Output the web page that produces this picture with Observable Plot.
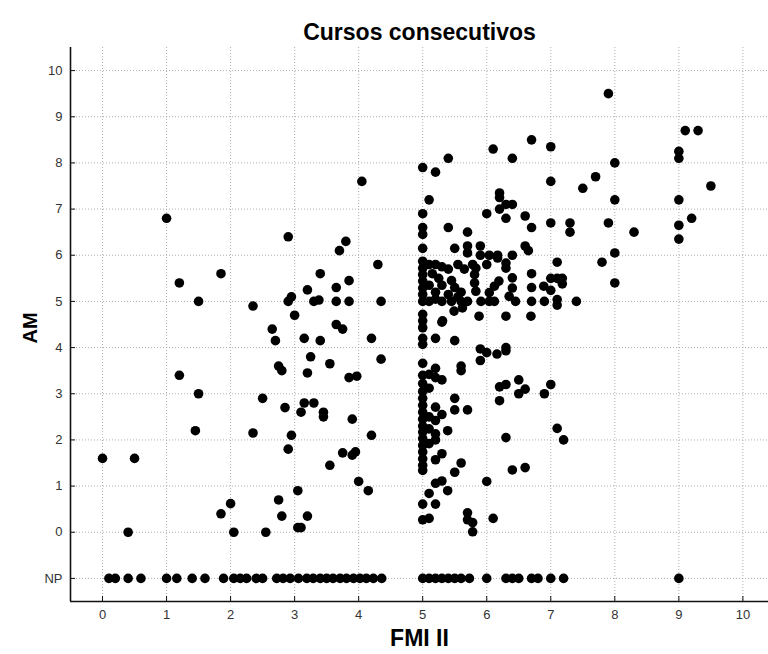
<!DOCTYPE html>
<html>
<head>
<meta charset="utf-8">
<script src="https://cdn.jsdelivr.net/npm/d3@7"></script>
<script src="https://cdn.jsdelivr.net/npm/@observablehq/plot@0.6"></script>
<style>
  html, body { margin: 0; padding: 0; background: #fff; }
  #chart svg { display: block; }
</style>
</head>
<body>
<div id="chart"></div>
<script>
// ---- texts & ticks ----
const title = "Cursos consecutivos";
const xLabel = "FMI II";
const yLabel = "AM";
const xTicks = [0, 1, 2, 3, 4, 5, 6, 7, 8, 9, 10];
const yTicks = [-1, 0, 1, 2, 3, 4, 5, 6, 7, 8, 9, 10];
const yTickLabels = ["NP", "0", "1", "2", "3", "4", "5", "6", "7", "8", "9", "10"];
const NP = -1; // "No presentado" row
const xDomain = [-0.5, 10.4];
const yDomain = [-1.5, 10.5];

// ---- data: [FMI II, AM] pairs ----
const groupLow = [
  [0, 1.6], [0.5, 1.6], [0.4, 0],
  [1.0, 6.8], [1.2, 5.4], [1.5, 5.0], [1.85, 5.6], [1.2, 3.4], [1.5, 3.0], [1.45, 2.2],
  [1.85, 0.4], [2.0, 0.62], [2.05, 0],
  [2.35, 4.9], [2.35, 2.15], [2.5, 2.9], [2.55, 0], [2.65, 4.4], [2.7, 4.15], [2.75, 3.6],
  [2.8, 3.5], [2.85, 2.7], [2.95, 2.1], [2.9, 1.8], [2.75, 0.7], [2.8, 0.35]
];
const groupThreeFour = [
  [2.9, 6.4], [2.9, 5.0], [2.95, 5.1], [3.0, 4.7], [3.05, 0.9], [3.05, 0.1], [3.1, 0.1], [3.2, 0.35],
  [3.2, 5.25], [3.3, 5.0], [3.38, 5.03], [3.4, 5.6], [3.15, 4.2], [3.4, 4.15], [3.25, 3.8],
  [3.2, 3.45], [3.15, 2.8], [3.3, 2.8], [3.1, 2.6], [3.45, 2.6], [3.45, 2.5],
  [3.55, 3.65], [3.65, 4.5], [3.75, 4.4], [3.65, 5.3], [3.65, 5.0], [3.85, 5.45], [3.85, 5.0],
  [3.7, 6.1], [3.8, 6.3], [4.05, 7.6], [4.3, 5.8], [4.35, 5.0], [4.2, 4.2], [4.35, 3.75],
  [3.85, 3.35], [3.97, 3.38], [3.9, 2.45], [4.2, 2.1], [3.75, 1.72], [3.9, 1.67], [3.95, 1.74],
  [3.55, 1.45], [4.0, 1.1], [4.15, 0.9]
];
const groupFiveColumn = [
  [5, 7.9], [5, 6.9], [5, 6.6], [5, 6.45], [5, 6.15], [5, 5.87], [5, 5.72], [5, 5.58], [5, 5.44],
  [5, 5.29], [5, 5.15], [5, 5.0], [5, 4.72], [5, 4.58], [5, 4.43], [5, 4.2], [5, 4.07], [5, 3.66],
  [5, 3.4], [5, 3.22], [5, 3.05], [5, 2.9], [5, 2.75], [5, 2.6], [5, 2.45], [5, 2.3], [5, 2.17],
  [5, 2.03], [5, 1.88], [5, 1.74], [5, 1.59], [5, 1.45], [5, 1.34], [5, 0.61], [5, 0.27]
];
const groupFiveNear = [
  [5.2, 7.8], [5.4, 8.1], [5.1, 7.2],
  [5.3, 4.55], [5.2, 4.2], [5.2, 3.55], [5.1, 3.42], [5.2, 3.35], [5.3, 3.3], [5.1, 3.12],
  [5.2, 2.71], [5.3, 2.55], [5.2, 2.42], [5.1, 2.5], [5.1, 2.24], [5.2, 2.13], [5.39, 2.2],
  [5.2, 2.0], [5.1, 1.92], [5.3, 1.7], [5.2, 1.57], [5.2, 1.06], [5.3, 1.11], [5.39, 0.9],
  [5.1, 0.84], [5.1, 0.3], [5.2, 0.61]
];
const groupDense = [
  [5.1, 5.8], [5.2, 5.8], [5.3, 5.75], [5.4, 5.7], [5.55, 5.8], [5.65, 5.7],
  [5.15, 5.6], [5.25, 5.5], [5.3, 5.35], [5.45, 5.45], [5.5, 5.3], [5.6, 5.2], [5.55, 5.1],
  [5.4, 5.15], [5.2, 5.2], [5.1, 5.35],
  [5.1, 5.0], [5.2, 5.05], [5.3, 5.0], [5.45, 5.0], [5.6, 5.0], [5.7, 5.0],
  [5.81, 5.58], [5.81, 5.4], [5.83, 5.22], [5.91, 5.0], [6.04, 5.19], [6.12, 5.33], [6.19, 5.44],
  [6.04, 5.0], [6.12, 5.0], [6.4, 5.51], [6.4, 5.29], [6.35, 5.11], [6.45, 5.0],
  [5.78, 5.8], [5.83, 5.72], [6.0, 5.8], [6.17, 5.94], [6.3, 5.83], [6.3, 5.72],
  [5.49, 4.79], [5.62, 4.86], [5.88, 4.68], [6.3, 4.68], [6.69, 4.68], [5.31, 4.58]
];
const groupSixUpper = [
  [5.4, 6.6], [5.7, 6.5], [5.5, 6.15], [5.7, 6.2], [5.7, 6.05], [5.9, 6.2], [5.9, 6.0],
  [6.04, 6.0], [6.17, 6.0], [6.4, 6.0], [6.0, 6.9], [6.1, 8.3], [6.4, 8.1], [6.7, 8.5],
  [6.2, 7.35], [6.2, 7.25], [6.2, 7.0], [6.3, 7.1], [6.4, 7.1], [6.3, 6.8], [6.6, 6.85],
  [6.7, 6.6], [6.6, 6.2], [6.65, 6.1], [7.0, 6.7], [7.0, 8.35], [7.0, 7.6]
];
const groupHigh = [
  [7.9, 9.5], [9.1, 8.7], [9.3, 8.7], [9.0, 8.25], [9.0, 8.1], [8.0, 8.0], [7.7, 7.7], [7.5, 7.45],
  [8.0, 7.2], [9.0, 7.2], [9.5, 7.5], [7.3, 6.7], [7.3, 6.5], [7.9, 6.7], [8.3, 6.5], [9.0, 6.65],
  [9.2, 6.8], [9.0, 6.35], [8.0, 6.05], [7.8, 5.85], [7.1, 5.85], [6.7, 5.6], [7.0, 5.5],
  [7.1, 5.5], [7.18, 5.5], [6.89, 5.33], [7.0, 5.24], [7.18, 5.38], [6.7, 5.3], [7.1, 5.04],
  [7.1, 4.92], [6.9, 5.0], [6.7, 5.0], [7.4, 5.0], [8.0, 5.4]
];
const groupSixLower = [
  [5.5, 4.15], [5.6, 3.6], [5.6, 3.5], [5.5, 2.9], [5.5, 2.65], [5.7, 2.65], [5.6, 1.5], [5.5, 1.3],
  [5.7, 0.42], [5.7, 0.27], [5.78, 0.21], [5.78, 0.01], [6.0, 1.1], [6.1, 0.3],
  [5.9, 3.97], [5.9, 3.72], [6.0, 3.89], [6.16, 3.86], [6.3, 3.93], [6.3, 4.0],
  [6.2, 2.85], [6.2, 3.15], [6.3, 3.2], [6.5, 3.3], [6.5, 3.0], [6.6, 3.1], [7.0, 3.2], [6.9, 3.0],
  [6.3, 2.05], [6.4, 1.35], [6.6, 1.4], [7.1, 2.25], [7.2, 2.0]
];
// FMI II grades of students with AM = NP
const npFmi = [
  0.1, 0.2, 0.4, 0.6, 1.0, 1.16, 1.4, 1.6, 1.89, 2.05, 2.15, 2.25, 2.4, 2.5,
  2.72, 2.82, 2.93, 3.06, 3.19, 3.29, 3.4, 3.5, 3.6, 3.71, 3.81, 3.92, 4.02, 4.12, 4.23, 4.36,
  5.0, 5.1, 5.2, 5.3, 5.4, 5.5, 5.6, 5.73, 6.0, 6.3, 6.4, 6.5, 6.7, 6.8, 7.0, 7.2, 9.0
];

// ---- build table ----
const graded = [].concat(groupLow, groupThreeFour, groupFiveColumn, groupFiveNear,
  groupDense, groupSixUpper, groupHigh, groupSixLower).map(([x, y]) => ({x, y}));
const points = graded.concat(npFmi.map(x => ({x, y: NP})));

// ---- layout ----
const W = 768, H = 654;
const mL = 70, mT = 47, mB = 53, mR = 0;
const frameW = W - mL - mR, frameH = H - mT - mB;
const gridStyle = {stroke: "#9a9a9a", strokeOpacity: 1, strokeWidth: 0.8, strokeDasharray: "1,2"};

const chart = Plot.plot({
  width: W, height: H,
  marginLeft: mL, marginTop: mT, marginBottom: mB, marginRight: mR,
  x: {domain: xDomain, axis: null},
  y: {domain: yDomain, axis: null},
  style: {fontFamily: "'Liberation Sans', Arial, Helvetica, sans-serif", background: "#fff", overflow: "visible"},
  marks: [
    Plot.gridX(xTicks, gridStyle),
    Plot.gridY(yTicks, gridStyle),
    Plot.tickX(xTicks, {x: d => d, insetTop: frameH - 5, stroke: "#111", strokeWidth: 1}),
    Plot.tickY(yTicks, {y: d => d, insetRight: frameW - 5, stroke: "#111", strokeWidth: 1}),
    Plot.ruleX([xDomain[0]], {stroke: "#111", strokeWidth: 1.6}),
    Plot.ruleY([yDomain[0]], {stroke: "#111", strokeWidth: 1.6}),
    Plot.axisX(xTicks, {tickSize: 0, tickPadding: 8, fontSize: 13, fill: "#333", label: null}),
    Plot.axisY(yTicks, {tickSize: 0, tickPadding: 8, fontSize: 13, fill: "#333", label: null,
      tickFormat: d => yTickLabels[yTicks.indexOf(d)]}),
    Plot.dot(points, {x: "x", y: "y", r: 4.8, fill: "#000", stroke: null}),
    Plot.text([title], {frameAnchor: "top", dy: -24, fontSize: 23, fontWeight: "bold", fill: "#000"}),
    Plot.text([xLabel], {frameAnchor: "bottom", dy: 44, fontSize: 23, fontWeight: "bold", fill: "#000"}),
    Plot.text([yLabel], {frameAnchor: "left", dx: -40, dy: 19, rotate: -90, fontSize: 20, fontWeight: "bold", fill: "#000"})
  ]
});
document.getElementById("chart").appendChild(chart);
</script>
</body>
</html>
